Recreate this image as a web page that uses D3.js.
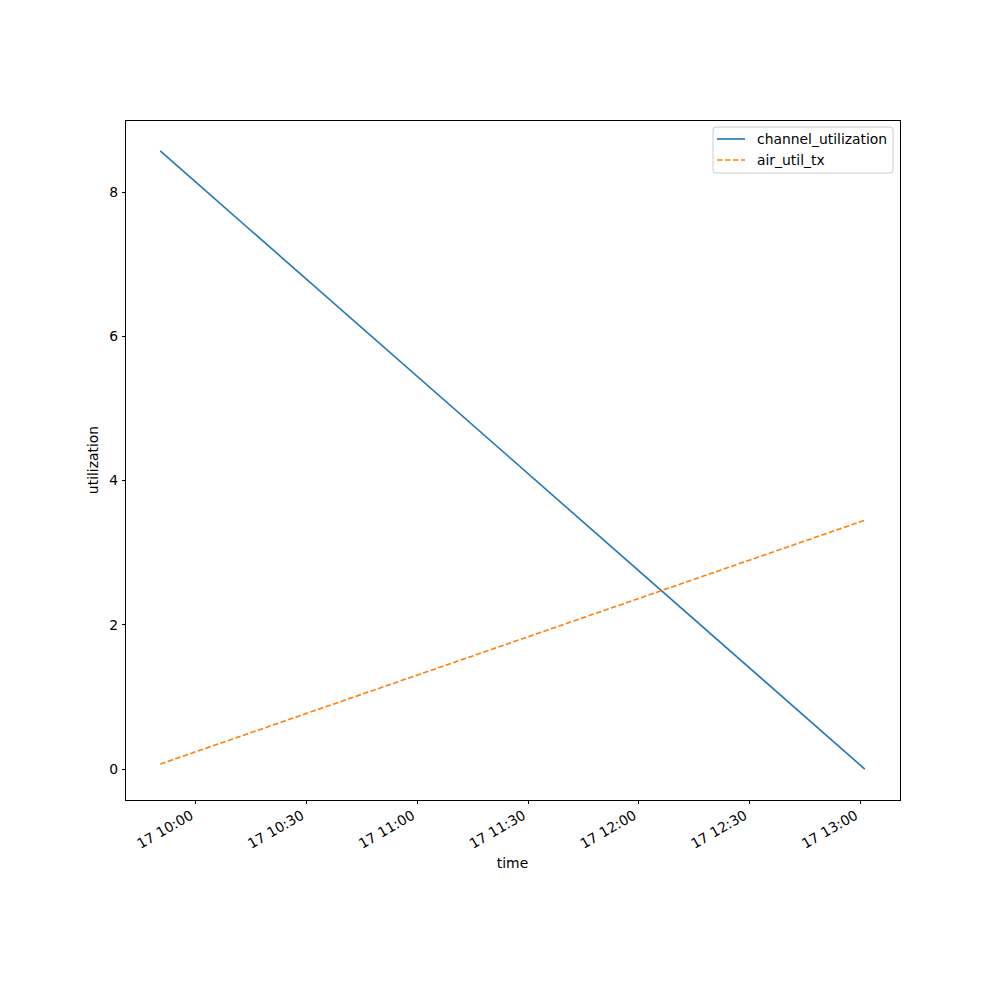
<!DOCTYPE html>
<html><head><meta charset="utf-8">
<script src="https://cdn.jsdelivr.net/npm/d3@7"></script>
<style>body{margin:0;background:#fff}svg{display:block}text{font-family:"DejaVu Sans",sans-serif}</style>
</head><body><svg id="c" width="1000" height="1000"></svg>
<script>
const times = ["2024-01-17T09:50:20", "2024-01-17T13:01:10"];
const channelUtilization = [8.57, 0.0];
const airUtilTx = [0.07, 3.45];
const seriesNames = ["channel_utilization", "air_util_tx"];
const xTickTimes = ["2024-01-17T10:00:00","2024-01-17T10:30:00","2024-01-17T11:00:00","2024-01-17T11:30:00","2024-01-17T12:00:00","2024-01-17T12:30:00","2024-01-17T13:00:00"];
const yTicks = [0, 2, 4, 6, 8];

const parse = d3.timeParse("%Y-%m-%dT%H:%M:%S");
const tData = times.map(parse);
const L = 125, R = 900, T = 120, B = 800;
const svg = d3.select("#c");
const fs = 13.9;

const tMin = tData[0], tMax = tData[tData.length-1];
const span = tMax - tMin;
const x = d3.scaleTime().domain([new Date(+tMin - span*0.05), new Date(+tMax + span*0.05)]).range([L, R]);
const allY = channelUtilization.concat(airUtilTx);
const yMin = d3.min(allY), yMax = d3.max(allY), ys = yMax - yMin;
const y = d3.scaleLinear().domain([yMin - ys*0.05, yMax + ys*0.05]).range([B, T]);

const series = [
  {name: seriesNames[0], vals: channelUtilization, color: "#1f77b4", dash: null},
  {name: seriesNames[1], vals: airUtilTx, color: "#ff7f0e", dash: "5.55,2.4"}
];
const line = d3.line().x(d => x(d[0])).y(d => y(d[1]));
series.forEach(s => {
  svg.append("path").datum(tData.map((t,i)=>[t, s.vals[i]]))
    .attr("d", line).attr("fill","none").attr("stroke", s.color)
    .attr("stroke-width",1.6).attr("stroke-dasharray", s.dash);
});

// x axis
const fmt = d3.timeFormat("%d %H:%M");
const xt = xTickTimes.map(parse);
const xg = svg.append("g");
xt.forEach(t => {
  const px = x(t);
  xg.append("line").attr("x1",px).attr("x2",px).attr("y1",B).attr("y2",B+3.5).attr("stroke","#000").attr("stroke-width",1).attr("shape-rendering","crispEdges");
  xg.append("text").attr("transform",`translate(${px-1.5},${818}) rotate(-30)`)
    .attr("text-anchor","end").attr("font-size",fs).attr("fill","#000").text(fmt(t));
});
// y axis
yTicks.forEach(v => {
  const py = y(v);
  svg.append("line").attr("x1",L-3.5).attr("x2",L).attr("y1",py).attr("y2",py).attr("stroke","#000").attr("stroke-width",1).attr("shape-rendering","crispEdges");
  svg.append("text").attr("x",L-7).attr("y",py).attr("dy","0.35em").attr("text-anchor","end").attr("font-size",fs).text(v);
});
// frame
svg.append("rect").attr("x",L).attr("y",T).attr("width",R-L).attr("height",B-T).attr("fill","none").attr("stroke","#000").attr("stroke-width",1).attr("shape-rendering","crispEdges");

svg.append("text").attr("x",(L+R)/2).attr("y",868).attr("text-anchor","middle").attr("font-size",fs).text("time");
svg.append("text").attr("transform",`translate(98,${(T+B)/2}) rotate(-90)`).attr("text-anchor","middle").attr("font-size",fs).text("utilization");

// legend
const lg = svg.append("g");
lg.append("rect").attr("x",713).attr("y",127).attr("width",180).attr("height",46).attr("rx",3)
  .attr("fill","#fff").attr("fill-opacity",0.8).attr("stroke","#ccc").attr("stroke-width",1);
series.forEach((s,i) => {
  const yy = 139 + i*21;
  lg.append("line").attr("x1",717).attr("x2",745).attr("y1",yy).attr("y2",yy).attr("stroke",s.color).attr("stroke-width",1.6).attr("stroke-dasharray",s.dash);
  lg.append("text").attr("x",757).attr("y",yy).attr("dy","0.35em").attr("font-size",fs).text(s.name);
});
</script></body></html>
